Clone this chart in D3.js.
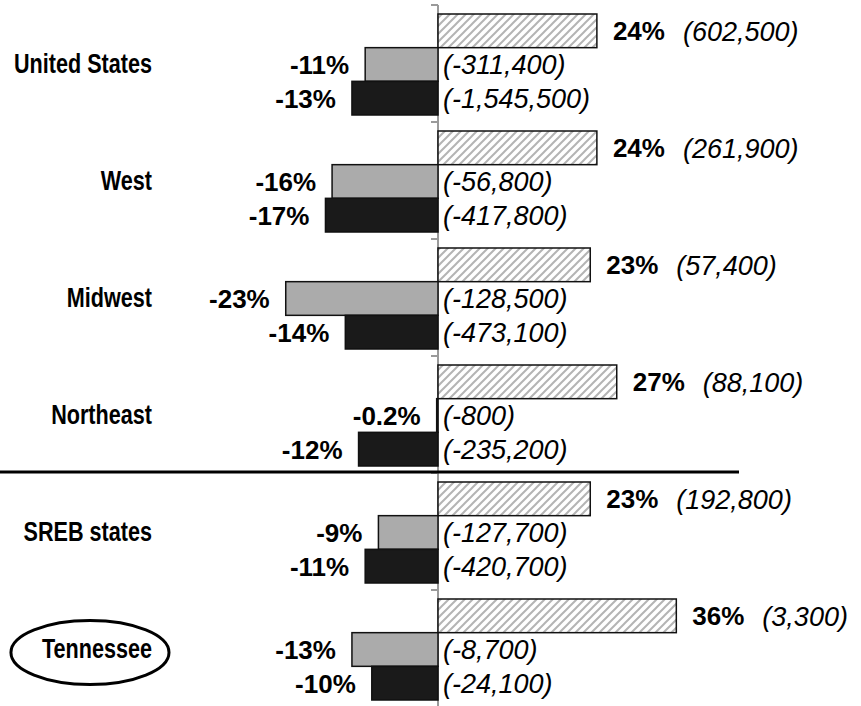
<html>
  <head>
    <meta charset="utf-8">
    <script src="https://d3js.org/d3.v7.min.js"></script>
    <style>
      body { margin: 0; background: #fff; }
      svg { font-family: "Liberation Sans", Arial, sans-serif; }
      .cat { font-size: 27px; font-weight: bold; }
      .pct { font-size: 26px; font-weight: bold; }
      .cnt { font-size: 27px; font-style: italic; }
    </style>
  </head>
  <body>
    <div id="chart"></div>
    <script>
var categories = ["United States", "West", "Midwest", "Northeast", "SREB states", "Tennessee"];

var hatchedPct = [24, 24, 23, 27, 23, 36];
var hatchedCount = [602500, 261900, 57400, 88100, 192800, 3300];

var grayPct = [-11, -16, -23, -0.2, -9, -13];
var grayCount = [-311400, -56800, -128500, -800, -127700, -8700];

var blackPct = [-13, -17, -14, -12, -11, -10];
var blackCount = [-1545500, -417800, -473100, -235200, -420700, -24100];

var width = 861;
var height = 706;
var zeroX = 438;
var pxPerPct = 6.62;
var squeeze = 0.8;

var series = [
  {key: "hatched", pct: hatchedPct, count: hatchedCount},
  {key: "gray", pct: grayPct, count: grayCount},
  {key: "black", pct: blackPct, count: blackCount}
];

var rows = [];
series.forEach(function(s) {
  categories.forEach(function(c, i) {
    rows.push({cat: c, key: s.key, pct: s.pct[i], count: s.count[i]});
  });
});

/* Scales */
var xScale = d3.scaleLinear()
  .domain([-30, 40])
  .range([zeroX - 30 * pxPerPct, zeroX + 40 * pxPerPct]);

var yScale = d3.scaleBand()
  .domain(categories)
  .range([5, 707]);

var subScale = d3.scaleBand()
  .domain(series.map(s => s.key))
  .range([9, 110]);

var fmt = d3.format(",");
var countText = d => "(" + fmt(d).replace("\u2212", "-") + ")";
var pctText = d => d + "%";

var svg = d3.select("#chart").append("svg")
  .attr("width", width)
  .attr("height", height);

var defs = svg.append("defs");
var pat = defs.append("pattern")
  .attr("id", "hatch")
  .attr("patternUnits", "userSpaceOnUse")
  .attr("width", 8)
  .attr("height", 8);
pat.append("rect").attr("width", 8).attr("height", 8).attr("fill", "#fff");
pat.append("path")
  .attr("d", "M-2,2 L2,-2 M0,8 L8,0 M6,10 L10,6")
  .attr("stroke", "#b4b4b4")
  .attr("stroke-width", 2);

var fills = {hatched: "url(#hatch)", gray: "#ababab", black: "#1a1a1a"};

/* Axis at zero */
svg.append("line")
  .attr("x1", zeroX).attr("x2", zeroX)
  .attr("y1", yScale.range()[0]).attr("y2", height)
  .attr("stroke", "#9a9a9a")
  .attr("stroke-width", 2);

var ticks = categories.map(c => yScale(c)).concat([yScale.range()[1]]);
svg.selectAll(".tick")
  .data(ticks).enter()
  .append("line")
  .attr("class", "tick")
  .attr("x1", zeroX - 7).attr("x2", zeroX)
  .attr("y1", d => d).attr("y2", d => d)
  .attr("stroke", "#9a9a9a")
  .attr("stroke-width", 2);

/* Bars */
svg.selectAll(".bar")
  .data(rows).enter()
  .append("rect")
  .attr("class", "bar")
  .attr("x", d => Math.min(xScale(0), xScale(d.pct)))
  .attr("width", d => Math.abs(xScale(d.pct) - xScale(0)))
  .attr("y", d => yScale(d.cat) + subScale(d.key))
  .attr("height", subScale.bandwidth())
  .attr("fill", d => fills[d.key])
  .attr("stroke", "#111")
  .attr("stroke-width", 1.5);

/* Percent labels */
var pctLabels = svg.selectAll(".pct")
  .data(rows).enter()
  .append("text")
  .attr("class", "pct")
  .attr("x", d => d.pct < 0 ? xScale(d.pct) - 16 : xScale(d.pct) + 16)
  .attr("y", d => yScale(d.cat) + subScale(d.key) + subScale.bandwidth() / 2)
  .attr("dy", "0.36em")
  .attr("text-anchor", d => d.pct < 0 ? "end" : "start")
  .text(d => pctText(d.pct));

/* Count labels */
pctLabels.each(function(d) {
  var x = d.pct < 0 ? zeroX + 5 : xScale(d.pct) + 16 + this.getComputedTextLength() + 18;
  svg.append("text")
    .attr("class", "cnt")
    .attr("x", x)
    .attr("y", yScale(d.cat) + subScale(d.key) + subScale.bandwidth() / 2)
    .attr("dy", "0.36em")
    .text(countText(d.count));
});

/* Category labels (condensed) */
var catWidth = {};
svg.selectAll(".cat")
  .data(categories).enter()
  .append("text")
  .attr("class", "cat")
  .attr("x", 152)
  .attr("y", d => yScale(d) + yScale.bandwidth() / 2)
  .attr("dy", "0.36em")
  .attr("text-anchor", "end")
  .text(d => d)
  .each(function(d) {
    catWidth[d] = this.getComputedTextLength() * squeeze;
    d3.select(this)
      .attr("textLength", catWidth[d])
      .attr("lengthAdjust", "spacingAndGlyphs");
  });

/* Ellipse around Tennessee */
var tn = categories[categories.length - 1];
var tw = catWidth[tn];
var tcx = 152 - tw / 2;
svg.append("ellipse")
  .attr("cx", tcx - 7)
  .attr("cy", yScale(tn) + yScale.bandwidth() / 2 + 4)
  .attr("rx", tw / 2 + 24)
  .attr("ry", 32)
  .attr("fill", "none")
  .attr("stroke", "#000")
  .attr("stroke-width", 3);

/* Separator between regions and states */
svg.append("line")
  .attr("x1", 0).attr("x2", 739)
  .attr("y1", yScale("SREB states") - 1).attr("y2", yScale("SREB states") - 1)
  .attr("stroke", "#000")
  .attr("stroke-width", 3);
    </script>
  </body>
</html>
